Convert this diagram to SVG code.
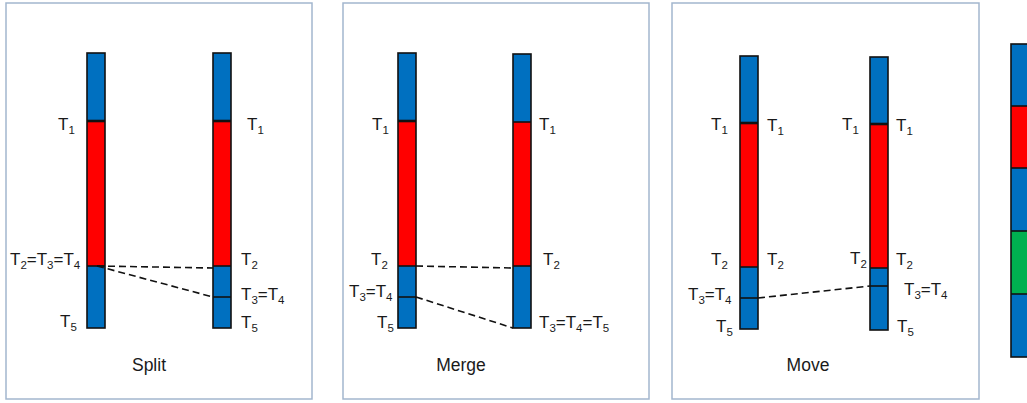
<svg xmlns="http://www.w3.org/2000/svg" width="1027" height="403" viewBox="0 0 1027 403">
<style>
.panel{fill:#fff;stroke:#a3b6ce;stroke-width:1.5}
.b{fill:#0070C0}
.r{fill:#FF0000}
.g{fill:#00B050}
.edge{fill:none;stroke:#111;stroke-width:1.6}
.sep{stroke:#111;stroke-width:1.6}
.sep1{stroke:#111;stroke-width:2.6}
.dash{fill:none;stroke:#111;stroke-width:1.6;stroke-dasharray:7 4}
text{font-family:"Liberation Sans",Arial,sans-serif;font-size:17px;fill:#1a1a1a}
.sub{font-size:11.5px}
.cap{font-size:17.5px}
</style>
<rect width="1027" height="403" fill="#fff"/>

<g id="panel-split">
<rect class="panel" x="6" y="3" width="306" height="396"/>
<g id="split-bar-a">
<rect class="b" x="87" y="53" width="18" height="68"/>
<rect class="r" x="87" y="121" width="18" height="145"/>
<rect class="b" x="87" y="266" width="18" height="62"/>
<line class="sep1" x1="87" y1="121" x2="105" y2="121"/>
<line class="sep" x1="87" y1="266" x2="105" y2="266"/>
<rect class="edge" x="87" y="53" width="18" height="275"/>
<text x="58" y="130">T<tspan class="sub" dy="4">1</tspan></text>
<text x="10" y="265">T<tspan class="sub" dy="4">2</tspan><tspan dy="-4">=T</tspan><tspan class="sub" dy="4">3</tspan><tspan dy="-4">=T</tspan><tspan class="sub" dy="4">4</tspan></text>
<text x="60" y="327">T<tspan class="sub" dy="4">5</tspan></text>
</g>
<g id="split-bar-b">
<rect class="b" x="213" y="53" width="18" height="68"/>
<rect class="r" x="213" y="121" width="18" height="145"/>
<rect class="b" x="213" y="266" width="18" height="62"/>
<line class="sep1" x1="213" y1="121" x2="231" y2="121"/>
<line class="sep" x1="213" y1="266" x2="231" y2="266"/>
<line class="sep" x1="213" y1="297" x2="231" y2="297"/>
<rect class="edge" x="213" y="53" width="18" height="275"/>
<text x="247" y="130">T<tspan class="sub" dy="4">1</tspan></text>
<text x="241" y="265">T<tspan class="sub" dy="4">2</tspan></text>
<text x="241" y="300">T<tspan class="sub" dy="4">3</tspan><tspan dy="-4">=T</tspan><tspan class="sub" dy="4">4</tspan></text>
<text x="241" y="328">T<tspan class="sub" dy="4">5</tspan></text>
</g>
<text class="cap" x="149" y="371" text-anchor="middle">Split</text>
</g>

<g id="panel-merge">
<rect class="panel" x="343" y="3" width="306" height="396"/>
<g id="merge-bar-a">
<rect class="b" x="398" y="53" width="18" height="68"/>
<rect class="r" x="398" y="121" width="18" height="145"/>
<rect class="b" x="398" y="266" width="18" height="62"/>
<line class="sep1" x1="398" y1="121" x2="416" y2="121"/>
<line class="sep" x1="398" y1="266" x2="416" y2="266"/>
<line class="sep" x1="398" y1="297" x2="416" y2="297"/>
<rect class="edge" x="398" y="53" width="18" height="275"/>
<text x="372" y="130">T<tspan class="sub" dy="4">1</tspan></text>
<text x="371" y="265">T<tspan class="sub" dy="4">2</tspan></text>
<text x="349" y="297">T<tspan class="sub" dy="4">3</tspan><tspan dy="-4">=T</tspan><tspan class="sub" dy="4">4</tspan></text>
<text x="377" y="328">T<tspan class="sub" dy="4">5</tspan></text>
</g>
<g id="merge-bar-b">
<rect class="b" x="513" y="54" width="18" height="68"/>
<rect class="r" x="513" y="122" width="18" height="144"/>
<rect class="b" x="513" y="266" width="18" height="62"/>
<line class="sep" x1="513" y1="122" x2="531" y2="122"/>
<line class="sep" x1="513" y1="266" x2="531" y2="266"/>
<rect class="edge" x="513" y="54" width="18" height="274"/>
<text x="539" y="130">T<tspan class="sub" dy="4">1</tspan></text>
<text x="543" y="265">T<tspan class="sub" dy="4">2</tspan></text>
<text x="539" y="328">T<tspan class="sub" dy="4">3</tspan><tspan dy="-4">=T</tspan><tspan class="sub" dy="4">4</tspan><tspan dy="-4">=T</tspan><tspan class="sub" dy="4">5</tspan></text>
</g>
<text class="cap" x="461" y="371" text-anchor="middle">Merge</text>
</g>

<g id="panel-move">
<rect class="panel" x="672" y="3" width="307" height="396"/>
<g id="move-bar-a">
<rect class="b" x="740" y="56" width="18" height="67"/>
<rect class="r" x="740" y="123" width="18" height="144"/>
<rect class="b" x="740" y="267" width="18" height="62"/>
<line class="sep1" x1="740" y1="123" x2="758" y2="123"/>
<line class="sep" x1="740" y1="267" x2="758" y2="267"/>
<line class="sep" x1="740" y1="298" x2="758" y2="298"/>
<rect class="edge" x="740" y="56" width="18" height="273"/>
<text x="711" y="130">T<tspan class="sub" dy="4">1</tspan></text>
<text x="767" y="131">T<tspan class="sub" dy="4">1</tspan></text>
<text x="711" y="265">T<tspan class="sub" dy="4">2</tspan></text>
<text x="767" y="265">T<tspan class="sub" dy="4">2</tspan></text>
<text x="688" y="300">T<tspan class="sub" dy="4">3</tspan><tspan dy="-4">=T</tspan><tspan class="sub" dy="4">4</tspan></text>
<text x="716" y="332">T<tspan class="sub" dy="4">5</tspan></text>
</g>
<g id="move-bar-b">
<rect class="b" x="870" y="57" width="18" height="67"/>
<rect class="r" x="870" y="124" width="18" height="144"/>
<rect class="b" x="870" y="268" width="18" height="62"/>
<line class="sep1" x1="870" y1="124" x2="888" y2="124"/>
<line class="sep" x1="870" y1="268" x2="888" y2="268"/>
<line class="sep" x1="870" y1="286" x2="888" y2="286"/>
<rect class="edge" x="870" y="57" width="18" height="273"/>
<text x="842" y="130">T<tspan class="sub" dy="4">1</tspan></text>
<text x="896" y="131">T<tspan class="sub" dy="4">1</tspan></text>
<text x="850" y="264">T<tspan class="sub" dy="4">2</tspan></text>
<text x="896" y="265">T<tspan class="sub" dy="4">2</tspan></text>
<text x="904" y="295">T<tspan class="sub" dy="4">3</tspan><tspan dy="-4">=T</tspan><tspan class="sub" dy="4">4</tspan></text>
<text x="897" y="332">T<tspan class="sub" dy="4">5</tspan></text>
</g>
<text class="cap" x="808" y="371" text-anchor="middle">Move</text>
</g>

<g id="legend-bar">
<rect class="b" x="1011" y="44" width="30" height="62"/>
<rect class="r" x="1011" y="106" width="30" height="62"/>
<rect class="b" x="1011" y="168" width="30" height="63"/>
<rect class="g" x="1011" y="231" width="30" height="63"/>
<rect class="b" x="1011" y="294" width="30" height="63"/>
<line class="sep" x1="1011" y1="106" x2="1041" y2="106"/>
<line class="sep" x1="1011" y1="168" x2="1041" y2="168"/>
<line class="sep" x1="1011" y1="231" x2="1041" y2="231"/>
<line class="sep" x1="1011" y1="294" x2="1041" y2="294"/>
<rect class="edge" x="1011" y="44" width="30" height="313"/>
</g>

<g id="connectors">
<line class="dash" x1="97" y1="266" x2="213" y2="268"/>
<line class="dash" x1="97" y1="266" x2="213" y2="297"/>
<line class="dash" x1="416" y1="266" x2="513" y2="268"/>
<line class="dash" x1="416" y1="297" x2="513" y2="328"/>
<line class="dash" x1="758" y1="298" x2="870" y2="286"/>
</g>
</svg>
